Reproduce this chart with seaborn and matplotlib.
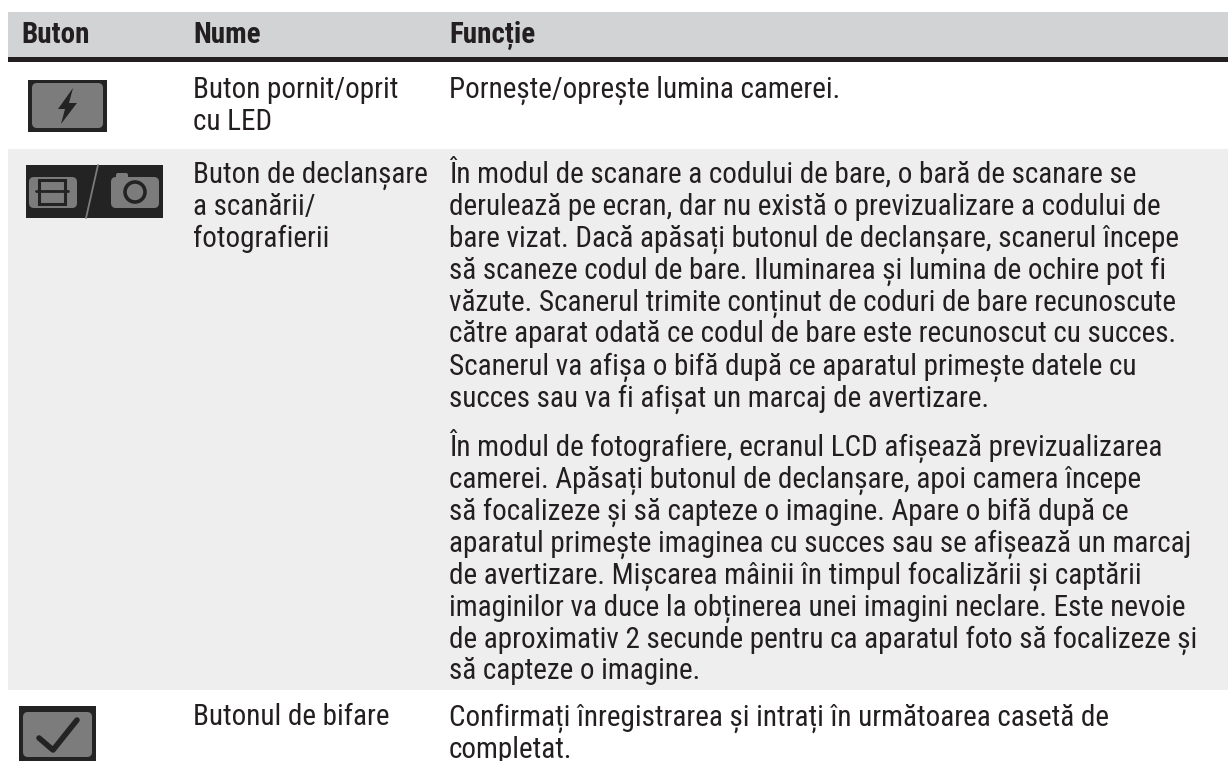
import matplotlib
matplotlib.use("Agg")
import numpy as np
import seaborn as sns
import matplotlib.pyplot as plt
from matplotlib.colors import ListedColormap
from matplotlib.patches import FancyBboxPatch, Polygon, Rectangle, Circle

INK = "#231f20"
ICON_DARK = "#232323"
ICON_GREY = "#7c7c7c"

#table text, one list per column
headers = ["Buton", "Nume", "Funcție"]
led_name = ["Buton pornit/oprit", "cu LED"]
led_func = ["Pornește/oprește lumina camerei."]
scan_name = ["Buton de declanșare", "a scanării/", "fotografierii"]
scan_func_1 = [
    "În modul de scanare a codului de bare, o bară de scanare se",
    "derulează pe ecran, dar nu există o previzualizare a codului de",
    "bare vizat. Dacă apăsați butonul de declanșare, scanerul începe",
    "să scaneze codul de bare. Iluminarea și lumina de ochire pot fi",
    "văzute. Scanerul trimite conținut de coduri de bare recunoscute",
    "către aparat odată ce codul de bare este recunoscut cu succes.",
    "Scanerul va afișa o bifă după ce aparatul primește datele cu",
    "succes sau va fi afișat un marcaj de avertizare.",
]
scan_func_2 = [
    "În modul de fotografiere, ecranul LCD afișează previzualizarea",
    "camerei. Apăsați butonul de declanșare, apoi camera începe",
    "să focalizeze și să capteze o imagine. Apare o bifă după ce",
    "aparatul primește imaginea cu succes sau se afișează un marcaj",
    "de avertizare. Mișcarea mâinii în timpul focalizării și captării",
    "imaginilor va duce la obținerea unei imagini neclare. Este nevoie",
    "de aproximativ 2 secunde pentru ca aparatul foto să focalizeze și",
    "să capteze o imagine.",
]
check_name = ["Butonul de bifare"]
check_func = ["Confirmați înregistrarea și intrați în următoarea casetă de", "completat."]

#row bands, heights in pixels top to bottom
band_shades = ["#ffffff", "#d1d3d4", INK, "#ffffff", "#eeeeee", "#ffffff"]
band_heights = [12, 45, 5, 87, 541, 71]
col_widths = [8, 1220, 2]

FONT = ["Roboto Condensed", "Archivo Narrow", "Roboto", "DejaVu Sans"]
TEXT_SIZE = 21
PITCH = 31.9


def draw_lines(ax, x, first_baseline, lines, **kw):
    for i, line in enumerate(lines):
        ax.text(x, first_baseline + i * PITCH, line, va="baseline", ha="left",
                color=INK, family=FONT, fontsize=TEXT_SIZE, **kw)


def icon_frame(ax, x0, y0, x1, y1):
    ax.add_patch(Rectangle((x0, y0), x1 - x0, y1 - y0, color=ICON_DARK, lw=0))


def grey_key(ax, x0, y0, x1, y1):
    ax.add_patch(FancyBboxPatch((x0 + 4, y0 + 4), x1 - x0 - 8, y1 - y0 - 8,
                                boxstyle="round,pad=4,rounding_size=5", color=ICON_GREY, lw=0))


def draw_icons(ax):
    #LED button
    icon_frame(ax, 28, 80, 107, 132)
    grey_key(ax, 32, 83, 103, 128)
    ax.add_patch(Polygon([(73, 88), (58, 109), (65, 109), (61, 124), (77, 103), (69, 103)],
                         color=ICON_DARK, lw=0))
    #scan and photo button
    icon_frame(ax, 26, 165, 163, 218)
    grey_key(ax, 29, 177, 77, 208)
    ax.add_patch(Rectangle((39, 180), 26, 24, fill=False, ec=ICON_DARK, lw=2.2))
    ax.plot([36, 68], [191, 191], color=ICON_DARK, lw=2)
    ax.plot([98, 86], [165, 218], color=ICON_GREY, lw=1.3)
    grey_key(ax, 111, 177, 159, 208)
    ax.add_patch(FancyBboxPatch((118, 175), 8, 4, boxstyle="round,pad=2,rounding_size=2",
                                color=ICON_GREY, lw=0))
    ax.add_patch(Circle((135, 192), 10, fc=ICON_GREY, ec=ICON_DARK, lw=2.6))
    #check button
    icon_frame(ax, 19, 706, 96, 761)
    grey_key(ax, 23, 712, 92, 757)
    ax.plot([39, 53, 77], [738, 750, 720], color=ICON_DARK, lw=4, solid_capstyle="round",
            solid_joinstyle="round")


sns.set_theme(style="white")
fig = plt.figure(figsize=(12.3, 7.61), dpi=100)
ax = fig.add_axes([0, 0, 1, 1])

#the table bands are a heatmap with one cell per pixel, so data coords are pixels
band_codes = np.arange(len(band_heights))
grid = np.repeat(band_codes, band_heights)[:, None].repeat(sum(col_widths), axis=1)
grid[:, : col_widths[0]] = 0
grid[:, col_widths[0] + col_widths[1] :] = 0
sns.heatmap(grid, ax=ax, cmap=ListedColormap(band_shades), vmin=0, vmax=len(band_shades) - 1,
            cbar=False, xticklabels=False, yticklabels=False)
ax.set_axis_off()

for x, label in zip([21, 193, 449], headers):
    ax.text(x, 43, label, va="baseline", color=INK, family=FONT, fontsize=TEXT_SIZE, fontweight="bold")

draw_lines(ax, 193, 98, led_name)
draw_lines(ax, 449, 98, led_func)
draw_lines(ax, 193, 183, scan_name)
draw_lines(ax, 449, 183, scan_func_1)
draw_lines(ax, 449, 456, scan_func_2)
draw_lines(ax, 193, 725, check_name)
draw_lines(ax, 449, 726, check_func)
draw_icons(ax)

fig.savefig("out.png", dpi=100)
